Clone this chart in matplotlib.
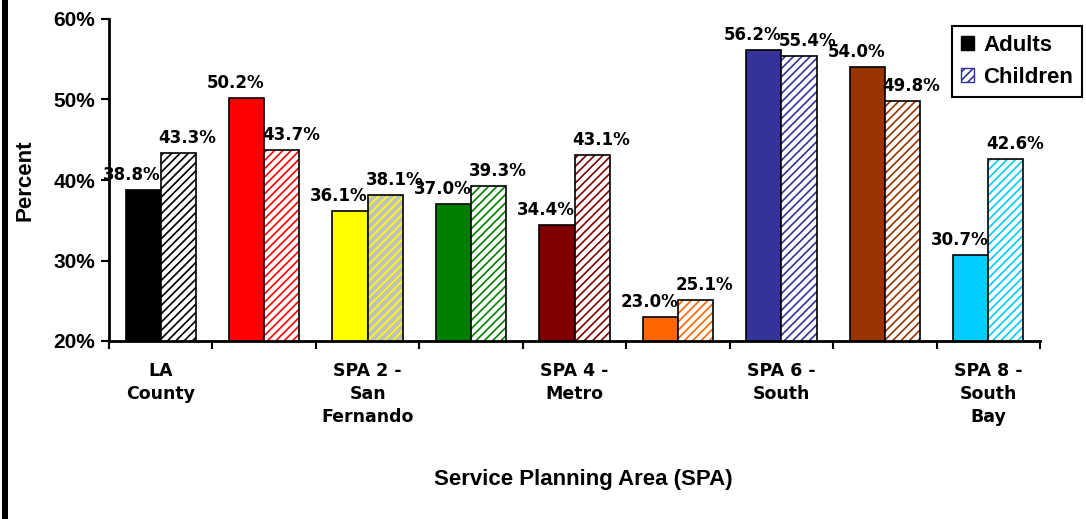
import numpy as np
import matplotlib
matplotlib.use("Agg")
import matplotlib.pyplot as plt
from matplotlib.patches import Patch, Rectangle

# data
categories = ["LA County", "SPA 1 - Antelope Valley", "SPA 2 - San Fernando",
              "SPA 3 - San Gabriel", "SPA 4 - Metro", "SPA 5 - West",
              "SPA 6 - South", "SPA 7 - East", "SPA 8 - South Bay"]
# excel only printed every second label
tick_labels = ["LA\nCounty", "", "SPA 2 -\nSan\nFernando", "", "SPA 4 -\nMetro",
               "", "SPA 6 -\nSouth", "", "SPA 8 -\nSouth\nBay"]
adults = [38.8, 50.2, 36.1, 37.0, 34.4, 23.0, 56.2, 54.0, 30.7]
children = [43.3, 43.7, 38.1, 39.3, 43.1, 25.1, 55.4, 49.8, 42.6]

bar_colors = ["#000000", "#FF0000", "#FFFF00", "#008000", "#800000",
              "#FF6600", "#333399", "#993300", "#00CCFF"]
child_face = ["white", "white", "#C0C0C0", "white", "white",
              "white", "white", "white", "white"]

plt.rcParams["font.family"] = ["Liberation Sans", "DejaVu Sans"]
plt.rcParams["hatch.linewidth"] = 1.2

fig = plt.figure(figsize=(10.86, 5.19), dpi=100)
ax = fig.add_axes([109 / 1086, 1 - 341 / 519, (1040 - 109) / 1086, (341 - 19) / 519])

x = np.arange(len(categories))
w = 0.34

ax.bar(x - w / 2, adults, w, color=bar_colors, edgecolor="black", linewidth=1.2, zorder=2)
# hatched children bars: hatch in series colour, outline drawn on top in black
for xi, c, fc, hc in zip(x, children, child_face, bar_colors):
    ax.bar(xi + w / 2, c, w, facecolor=fc, edgecolor=hc, hatch="////",
           linewidth=0, zorder=2)
ax.bar(x + w / 2, children, w, fill=False, edgecolor="black", linewidth=1.2, zorder=3)

for xi, a, c in zip(x, adults, children):
    ax.annotate(f"{a:.1f}%", (xi - w / 2, a), xytext=(-11, 6), textcoords="offset pixels",
                ha="center", va="bottom", fontsize=12, fontweight="bold",
                family="DejaVu Sans", zorder=5)
    ax.annotate(f"{c:.1f}%", (xi + w / 2, c), xytext=(9, 6), textcoords="offset pixels",
                ha="center", va="bottom", fontsize=12, fontweight="bold",
                family="DejaVu Sans", zorder=5)

ax.set_xlim(-0.5, len(categories) - 0.5)
ax.set_ylim(20, 60)
ax.set_yticks([20, 30, 40, 50, 60])
ax.set_yticklabels([f"{v}%" for v in [20, 30, 40, 50, 60]], fontsize=15, fontweight="bold")

# ticks between categories, labels at centers
ax.set_xticks(np.arange(len(categories) + 1) - 0.5)
ax.set_xticklabels([])
ax.set_xticks(x, minor=True)
ax.set_xticklabels(tick_labels, minor=True, fontsize=12.5, fontweight="bold",
                   family="DejaVu Sans", linespacing=1.35, va="top")
ax.tick_params(axis="x", which="minor", length=0, pad=15)
ax.tick_params(axis="x", which="major", length=6, width=1.5, direction="out")
ax.tick_params(axis="y", length=6, width=1.5, direction="out", pad=4)

for s in ["top", "right"]:
    ax.spines[s].set_visible(False)
for s in ["left", "bottom"]:
    ax.spines[s].set_linewidth(2)

fig.text(25 / 1086, 1 - 180 / 519, "Percent", rotation=90, ha="center", va="center",
         fontsize=16, fontweight="bold")
fig.text(583 / 1086, 1 - 479 / 519, "Service Planning Area (SPA)", ha="center",
         va="center", fontsize=16, fontweight="bold")

handles = [Patch(facecolor="black", edgecolor="black"),
           Patch(facecolor="white", edgecolor="#333399", hatch="////")]
leg = fig.legend(handles, ["Adults", "Children"], loc="upper left",
                 bbox_to_anchor=(952 / 1086, 1 - 26 / 519), bbox_transform=fig.transFigure,
                 borderaxespad=0, fancybox=False, framealpha=1, edgecolor="black",
                 prop={"size": 16, "weight": "bold"}, handlelength=0.6, handleheight=0.6,
                 handletextpad=0.4, labelspacing=0.5, borderpad=0.4)
leg.get_frame().set_linewidth(1.5)

# thick black rule down the left edge
fig.add_artist(Rectangle((2 / 1086, 0), 6 / 1086, 1, transform=fig.transFigure,
                         facecolor="black", edgecolor="none"))

fig.savefig("out.png", dpi=100)
